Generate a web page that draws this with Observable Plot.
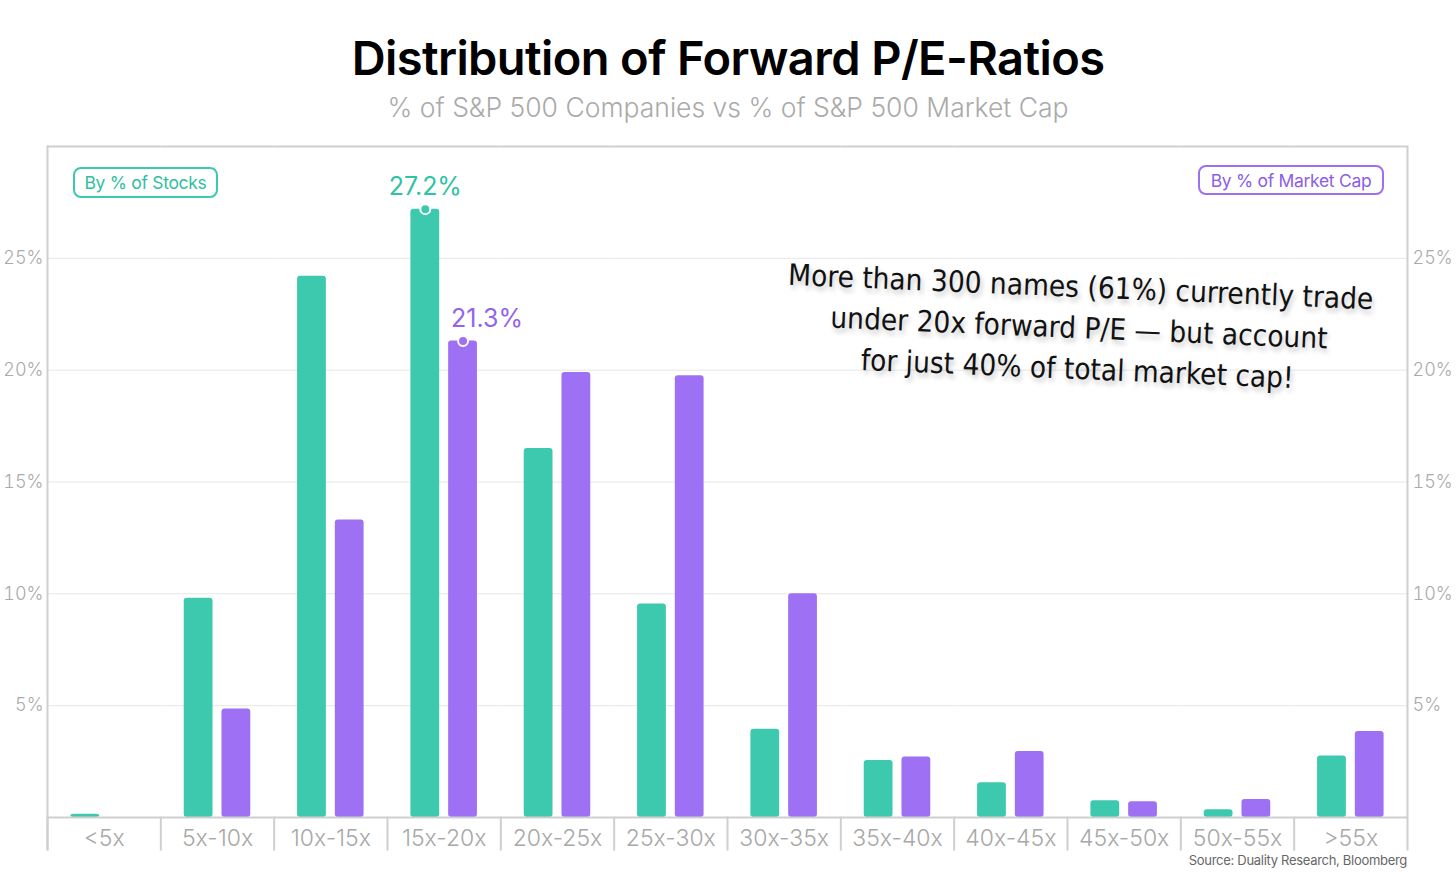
<!DOCTYPE html>
<html>
<head>
<meta charset="utf-8">
<script src="https://cdn.jsdelivr.net/npm/d3@7"></script>
<script src="https://cdn.jsdelivr.net/npm/@observablehq/plot@0.6"></script>
<style>
  html, body { margin: 0; padding: 0; background: #fff; }
  #wrap { position: relative; width: 1456px; height: 874px; overflow: hidden; font-family: Inter, "Noto Sans", sans-serif; }
  #title { position: absolute; left: 0; width: 1456px; top: 35px; text-align: center; font-size: 47px; line-height: 45px; font-weight: 600; letter-spacing: -0.6px; color: #000; }
  #subtitle { position: absolute; left: 0; width: 1456px; top: 94px; text-align: center; font-size: 26.5px; line-height: 26px; font-weight: 300; color: #aaa; }
  #chart { position: absolute; left: 0; top: 130px; }
  .legend { position: absolute; box-sizing: border-box; border: 2px solid; border-radius: 8px; font-size: 17.5px; letter-spacing: -0.3px; display: flex; align-items: center; justify-content: center; font-weight: 400; }
  #leg1 { left: 73px; top: 167px; width: 145px; height: 31px; border-color: #3cc9ae; color: #2fbf9f; }
  #leg2 { left: 1198px; top: 165px; width: 186px; height: 30px; border-color: #9d70f2; color: #8b5de8; }
  #note { position: absolute; left: 729px; top: 267px; width: 700px; text-align: center; white-space: nowrap; font-family: "DejaVu Sans Condensed", "DejaVu Sans", sans-serif; font-stretch: condensed; font-size: 29.5px; line-height: 41px; color: #111; transform: rotate(2.4deg); text-shadow: 2px 4px 5px rgba(0,0,0,0.22); }
  #source { position: absolute; right: 49px; top: 852px; font-size: 13px; letter-spacing: -0.3px; color: #666; font-weight: 400; }
</style>
</head>
<body>
<div id="wrap">
  <div id="title">Distribution of Forward P/E-Ratios</div>
  <div id="subtitle">% of S&amp;P 500 Companies vs % of S&amp;P 500 Market Cap</div>
  <div id="chart"></div>
  <div class="legend" id="leg1">By % of Stocks</div>
  <div class="legend" id="leg2">By % of Market Cap</div>
  <div id="note">More than 300 names (61%) currently trade<br>under 20x forward P/E — but account<br>for just 40% of total market cap!</div>
  <div id="source">Source: Duality Research, Bloomberg</div>
</div>
<script>
const categories = ["<5x","5x-10x","10x-15x","15x-20x","20x-25x","25x-30x","30x-35x","35x-40x","40x-45x","45x-50x","50x-55x",">55x"];
const seriesKeys = ["stocks", "mcap"];
const stocksPct = [0.15, 9.8, 24.2, 27.2, 16.5, 9.55, 3.95, 2.55, 1.55, 0.75, 0.35, 2.75];
const mcapPct   = [0, 4.85, 13.3, 21.3, 19.9, 19.75, 10.0, 2.7, 2.95, 0.7, 0.8, 3.85];
const yTicks = [5, 10, 15, 20, 25];

const teal = "#3cc9ae";
const purple = "#9e71f4";

const rows = [];
categories.forEach((c, i) => {
  rows.push({cat: c, series: "stocks", value: stocksPct[i]});
  rows.push({cat: c, series: "mcap", value: mcapPct[i]});
});
const peakStocks = rows.filter(d => d.series === "stocks" && d.value === d3.max(stocksPct));
const peakMcap = rows.filter(d => d.series === "mcap" && d.value === d3.max(mcapPct));

const W = 1456, H = 744, mT = 16, mB = 57, mL = 47, mR = 49;
const plotH = H - mT - mB;

const chart = Plot.plot({
  width: W, height: H,
  marginTop: mT, marginBottom: mB, marginLeft: mL, marginRight: mR,
  style: {fontFamily: "Inter, 'Noto Sans', sans-serif", background: "transparent", overflow: "visible"},
  fx: {domain: categories, padding: 0, label: null, round: false},
  x: {domain: seriesKeys, paddingInner: 0.237, paddingOuter: 0.62, axis: null, round: false},
  y: {domain: [0, 30], label: null, axis: null},
  color: {domain: seriesKeys, range: [teal, purple]},
  marks: [
    Plot.gridY(yTicks, {stroke: "#e6e6e6", strokeOpacity: 1, strokeWidth: 1}),
    Plot.axisY(yTicks, {anchor: "left", tickSize: 0, tickPadding: 4, tickFormat: d => d + "%", fontSize: 18, fontWeight: 300, fill: "#aaa", label: null}),
    Plot.axisY(yTicks, {anchor: "right", tickSize: 0, tickPadding: 5, tickFormat: d => d + "%", fontSize: 18, fontWeight: 300, fill: "#aaa", label: null}),
    Plot.axisFx({anchor: "bottom", tickSize: 0, tickPadding: 12, fontSize: 23, fontWeight: 300, fill: "#a8a8a8", label: null}),
    Plot.barY(rows, {fx: "cat", x: "series", y: "value", fill: "series", rx: 3}),
    Plot.ruleY([0], {stroke: "#cfcfcf", strokeWidth: 2}),
    Plot.ruleY([30], {stroke: "#cfcfcf", strokeWidth: 2}),
    Plot.frame({anchor: "left", insetTop: plotH, insetBottom: -32, stroke: "#cfcfcf", strokeWidth: 2}),
    Plot.frame({anchor: "left", fx: [categories[0]], insetBottom: -32, stroke: "#cfcfcf", strokeWidth: 2}),
    Plot.frame({anchor: "right", fx: [categories[categories.length - 1]], insetBottom: -32, stroke: "#cfcfcf", strokeWidth: 2}),
    Plot.dot(peakStocks, {fx: "cat", x: "series", y: "value", r: 5, fill: teal, stroke: "#fff", strokeWidth: 2}),
    Plot.dot(peakMcap, {fx: "cat", x: "series", y: "value", r: 5, fill: purple, stroke: "#fff", strokeWidth: 2}),
    Plot.text(peakStocks, {fx: "cat", x: "series", y: "value", text: d => d.value.toFixed(1) + "%", dy: -22, fontSize: 25, fontWeight: 400, fill: "#2fc3a3"}),
    Plot.text(peakMcap, {fx: "cat", x: "series", y: "value", text: d => d.value.toFixed(1) + "%", dy: -22, dx: 24, fontSize: 25, fontWeight: 400, fill: "#9264ee"})
  ]
});
document.getElementById("chart").appendChild(chart);
</script>
</body>
</html>
